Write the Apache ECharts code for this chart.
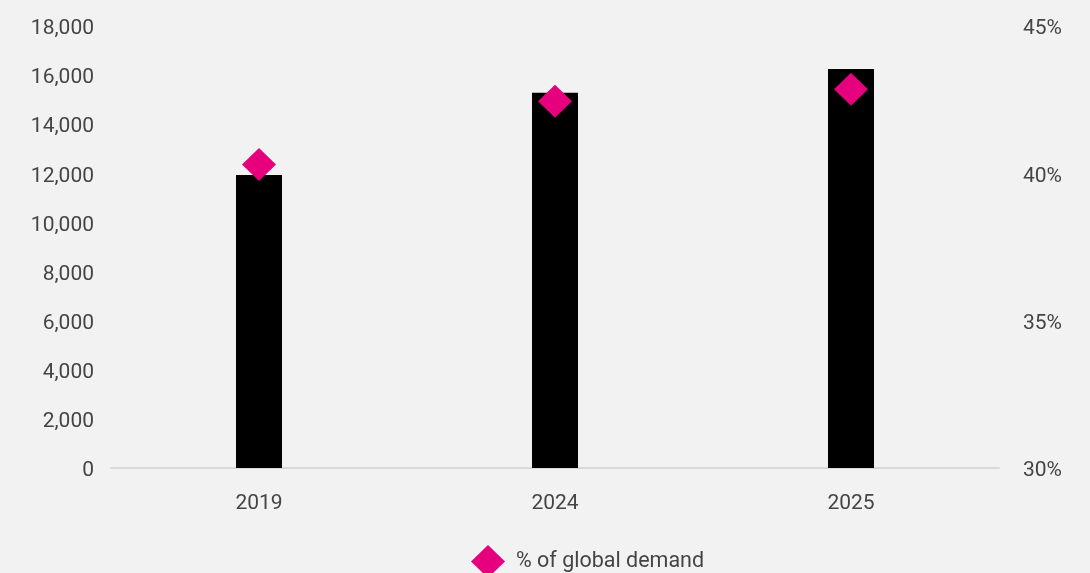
<!DOCTYPE html>
<html>
<head>
<meta charset="utf-8">
<script src="https://cdn.jsdelivr.net/npm/echarts@6/dist/echarts.min.js"></script>
<style>
html,body{margin:0;padding:0;background:#f2f2f2;}
#main{width:1090px;height:573px;}
</style>
</head>
<body>
<div id="main"></div>
<script>
const categories = ['2019', '2024', '2025'];
const demandValues = [11930, 15280, 16250];
const shareValues = [40.3, 42.45, 42.85];
const seriesNames = ['Demand', '% of global demand'];

const chart = echarts.init(document.getElementById('main'), null, {renderer: 'canvas'});
const font = 'Roboto, "Liberation Sans", sans-serif';
const txt = '#454545';
const richLbl = {a: {fontFamily: font, fontSize: 21, color: txt, padding: [6, 0, 0, 0]}};
chart.setOption({
  backgroundColor: '#f2f2f2',
  animation: false,
  grid: {left: 111, right: 91, top: 26, bottom: 105},
  legend: {
    data: [{name: seriesNames[1], icon: 'diamond'}],
    top: 540,
    left: 466,
    itemWidth: 34,
    itemHeight: 33,
    textStyle: {fontFamily: font, fontSize: 21.5, color: txt, padding: [0, 0, 0, 6]}
  },
  xAxis: {
    type: 'category',
    data: categories,
    axisLine: {lineStyle: {color: '#d9d9d9', width: 2}},
    axisTick: {show: false},
    axisLabel: {fontFamily: font, fontSize: 21, color: txt, margin: 25}
  },
  yAxis: [
    {
      type: 'value', min: 0, max: 18000, interval: 2000,
      splitLine: {show: false},
      axisLine: {show: false}, axisTick: {show: false},
      axisLabel: {
        fontFamily: font, fontSize: 21, color: txt, margin: 17,
        rich: richLbl,
        formatter: v => '{a|' + v.toLocaleString('en-US') + '}'
      }
    },
    {
      type: 'value', min: 30, max: 45, interval: 5,
      splitLine: {show: false},
      axisLine: {show: false}, axisTick: {show: false},
      axisLabel: {
        fontFamily: font, fontSize: 21, color: txt, margin: 24,
        rich: richLbl,
        formatter: v => '{a|' + v + '%}'
      }
    }
  ],
  series: [
    {
      name: seriesNames[0], type: 'bar', data: demandValues,
      barWidth: 46, itemStyle: {color: '#000000'}, yAxisIndex: 0
    },
    {
      name: seriesNames[1], type: 'scatter', data: shareValues, yAxisIndex: 1,
      symbol: 'diamond', symbolSize: [34, 33], itemStyle: {color: '#e6007e', opacity: 1}
    }
  ]
});
</script>
</body>
</html>
